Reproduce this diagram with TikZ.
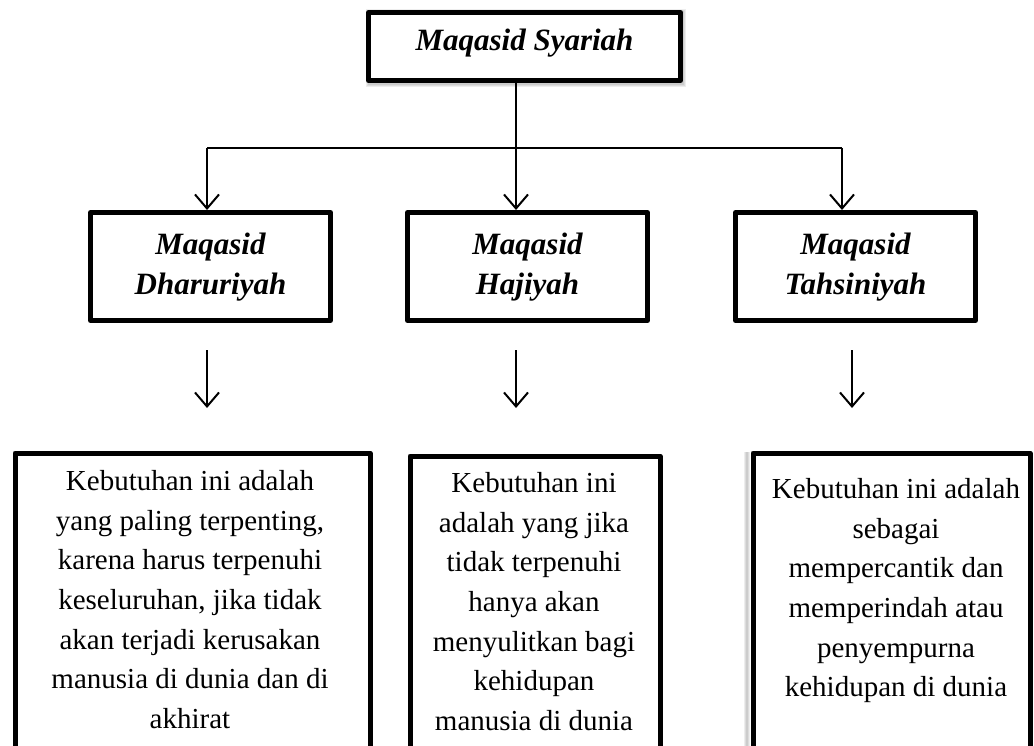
\documentclass[tikz,border=0pt]{standalone}
\usepackage{fontspec}
\setmainfont{Liberation Serif}
\usetikzlibrary{arrows.meta}
\tikzset{
  boxstyle/.style={draw=black, line width=5pt, fill=white, inner sep=0pt, line join=round},
  titletext/.style={font=\fontsize{31}{40}\selectfont\bfseries\itshape, align=center},
  bodytext/.style={font=\fontsize{29}{39.7}\selectfont, align=center, inner sep=0pt},
  conn/.style={line width=2pt},
  arr/.style={line width=2pt, -{Straight Barb[length=14pt,width=24pt,line width=2pt]}}
}
\begin{document}
\begin{tikzpicture}[x=1pt,y=-1pt]
\useasboundingbox (0,0) rectangle (1034,746);
\fill[white] (0,0) rectangle (1034,746);
\begin{scope}
\clip (0,0) rectangle (1034,746);
% soft shadow of the top box
\foreach \s in {2,4,6}{
  \draw[black, opacity=0.07, line width=\s pt] (369,12) rectangle (683,84);
}
% top box
\node[boxstyle, minimum width=312pt, minimum height=68pt] (top) at (524.5,46.5) {};
\node[titletext] (toptxt) at (524.5,43) {Maqasid Syariah};
% middle boxes
\node[boxstyle, minimum width=240pt, minimum height=108pt] (d1) at (210.5,266.5) {};
\node[boxstyle, minimum width=240pt, minimum height=108pt] (d2) at (527.5,266.5) {};
\node[boxstyle, minimum width=240pt, minimum height=108pt] (d3) at (855.5,266.5) {};
\node[titletext] (d1t) at (210.5,267) {Maqasid\\Dharuriyah};
\node[titletext] (d2t) at (527.5,267) {Maqasid\\Hajiyah};
\node[titletext] (d3t) at (855.5,267) {Maqasid\\Tahsiniyah};
% bottom boxes
\node[boxstyle, anchor=north west, minimum width=355pt, minimum height=340pt] (b1) at (12.5,450.5) {};
\node[boxstyle, anchor=north west, minimum width=250pt, minimum height=340pt] (b2) at (407.5,453.5) {};
\foreach \s in {2,4,6}{
  \draw[black, opacity=0.07, line width=\s pt] (747,452) -- (747,760);
}
\node[boxstyle, anchor=north west, minimum width=277pt, minimum height=340pt] (b3) at (750.5,450.5) {};
\node[bodytext, anchor=north] (t1) at (190,470) {Kebutuhan ini adalah\\yang paling terpenting,\\karena harus terpenuhi\\keseluruhan, jika tidak\\akan terjadi kerusakan\\manusia di dunia dan di\\akhirat};
\node[bodytext, anchor=north] (t2) at (534,472) {Kebutuhan ini\\adalah yang jika\\tidak terpenuhi\\hanya akan\\menyulitkan bagi\\kehidupan\\manusia di dunia};
\node[bodytext, anchor=north] (t3) at (896,478) {Kebutuhan ini adalah\\sebagai\\mempercantik dan\\memperindah atau\\penyempurna\\kehidupan di dunia};
% connectors
\coordinate (jl) at (207,148);
\coordinate (jm) at (516,148);
\coordinate (jr) at (842,148);
\draw[conn] (jm |- top.south) -- (jm);
\draw[conn] (jl) -- (jr);
\draw[arr] (jl) -- (jl |- d1.north);
\draw[arr] (jm) -- (jm |- d2.north);
\draw[arr] (jr) -- (jr |- d3.north);
% lower arrows
\coordinate (a1s) at (207,350); \coordinate (a1e) at (207,408);
\coordinate (a2s) at (516,350); \coordinate (a2e) at (516,408);
\coordinate (a3s) at (852,350); \coordinate (a3e) at (852,408);
\draw[arr] (a1s) -- (a1e);
\draw[arr] (a2s) -- (a2e);
\draw[arr] (a3s) -- (a3e);
\end{scope}
\end{tikzpicture}
\end{document}
